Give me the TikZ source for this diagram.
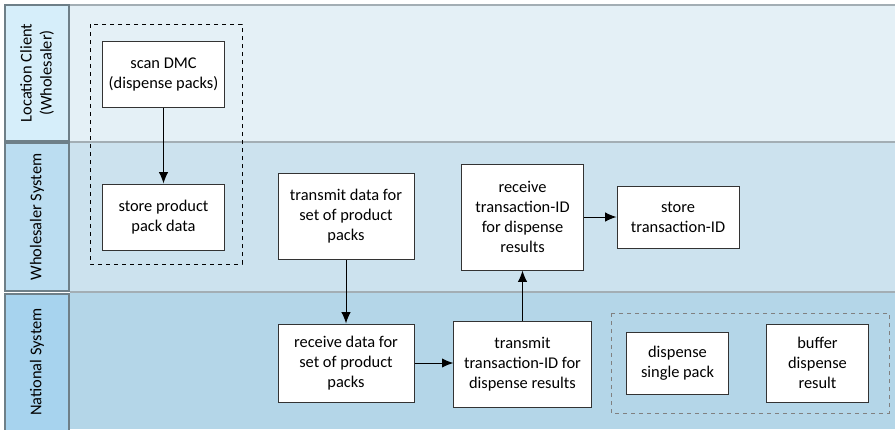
\documentclass[tikz,border=0pt]{standalone}
\usepackage{fontspec}
\setmainfont{Carlito}
\usetikzlibrary{arrows.meta}
\definecolor{bane1}{HTML}{E4F0F6}
\definecolor{bane2}{HTML}{CCE2EE}
\definecolor{bane3}{HTML}{B4D6E8}
\definecolor{hode1}{HTML}{D6EEFA}
\definecolor{hode2}{HTML}{BBDDF1}
\definecolor{hode3}{HTML}{A7D3EE}
\definecolor{kant}{HTML}{A3AEB4}
\definecolor{hodekant}{HTML}{6E7F88}
\begin{document}
\begin{tikzpicture}[x=0.75pt,y=-0.75pt,
  every node/.style={font=\fontsize{12.3}{15}\selectfont},
  box/.style={draw=black!80,line width=0.75pt,fill=white,align=center,inner sep=2pt},
  hode/.style={draw=hodekant,line width=1.5pt},
  pil/.style={-{Latex[length=8.5pt,width=7pt]},line width=0.75pt}]
\useasboundingbox (0,0) rectangle (895,429);
% baner
\fill[bane1] (70,5) rectangle (895,142);
\fill[bane2] (70,142) rectangle (895,292);
\fill[bane3] (70,292) rectangle (895,429);
\draw[kant,line width=1.5pt] (70,5) -- (895,5);
\draw[kant,line width=1.5pt] (70,142) -- (895,142);
\draw[kant,line width=1.5pt] (70,292) -- (895,292);
% banehoder
\draw[hode,fill=hode1] (5,5) rectangle (69,141);
\draw[hode,fill=hode2] (5,143) rectangle (69,291);
\draw[hode,fill=hode3] (5,294) rectangle (69,432);
\node[rotate=90,align=center] (lane1) at (37,73) {Location Client\\(Wholesaler)};
\node[rotate=90] (lane2) at (37,217) {Wholesaler System};
\node[rotate=90] (lane3) at (37,362) {National System};
% grupper
\draw[dashed,line width=0.75pt] (90,24) rectangle (242,264);
\draw[dashed,gray,line width=0.75pt] (611,313) rectangle (889,413);
% steg
\node[box,minimum width=92pt,minimum height=49.5pt] (scan) at (163.5,74) {scan DMC\\(dispense packs)};
\node[box,minimum width=92pt,minimum height=49.5pt] (store) at (163.5,217) {store product\\pack data};
\node[box,minimum width=102pt,minimum height=65pt] (transmit) at (346,216.5) {transmit data for\\set of product\\packs};
\node[box,minimum width=92pt,minimum height=79.5pt] (recvid) at (522.5,217) {receive\\transaction-ID\\for dispense\\results};
\node[box,minimum width=91.5pt,minimum height=46pt] (storeid) at (678,217.5) {store\\transaction-ID};
\node[box,minimum width=102pt,minimum height=58.5pt] (recvdata) at (346,363) {receive data for\\set of product\\packs};
\node[box,minimum width=103pt,minimum height=64.5pt] (transid) at (522.5,364) {transmit\\transaction-ID for\\dispense results};
\node[box,minimum width=76pt,minimum height=46pt] (single) at (677.5,363.5) {dispense\\single pack};
\node[box,minimum width=76pt,minimum height=58.5pt] (buffer) at (817.5,363) {buffer\\dispense\\result};
% piler
\draw[pil] (scan) -- (store);
\draw[pil] (transmit) -- (recvdata);
\draw[pil] (recvdata.east) -- (recvdata.east -| transid.west);
\draw[pil] (transid) -- (recvid);
\draw[pil] (recvid.east) -- (recvid.east -| storeid.west);
\end{tikzpicture}
\end{document}
